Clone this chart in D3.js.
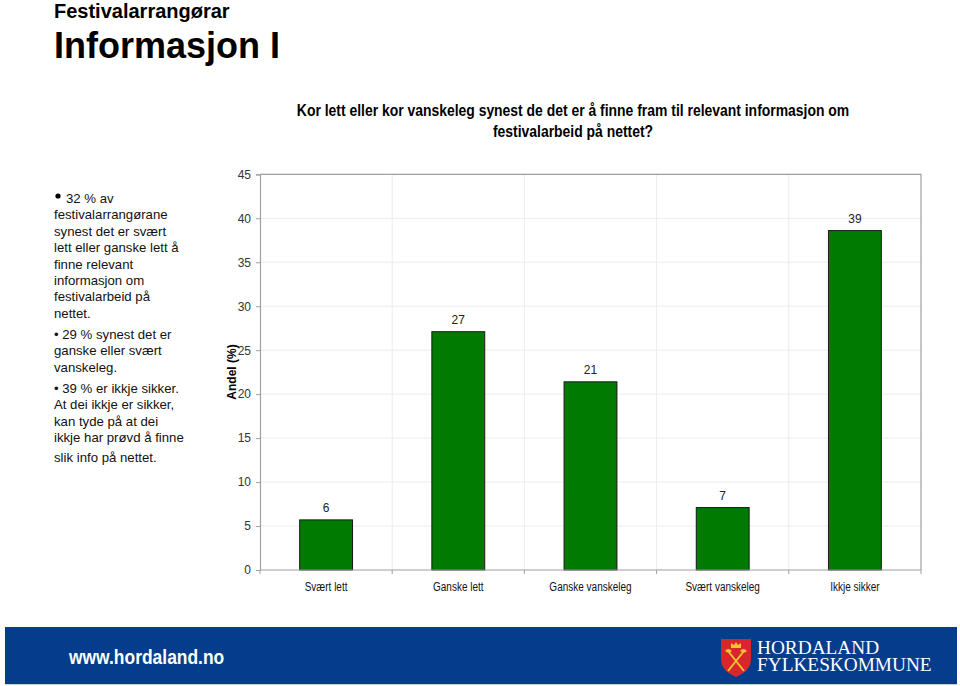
<!DOCTYPE html>
<html><head><meta charset="utf-8">
<script src="https://cdn.jsdelivr.net/npm/d3@7"></script>
<style>
html,body{margin:0;padding:0;background:#fff;}
svg{display:block;}
</style></head>
<body>
<script>
const categories = ["Svært lett","Ganske lett","Ganske vanskeleg","Svært vanskeleg","Ikkje sikker"];
const values = [5.7, 27.1, 21.4, 7.1, 38.6];
const yTicks = [0,5,10,15,20,25,30,35,40,45];
const chartTitle = ["Kor lett eller kor vanskeleg synest de det er å finne fram til relevant informasjon om","festivalarbeid på nettet?"];
const bulletText = [
  ["32 % av","festivalarrangørane","synest det er svært","lett eller ganske lett å","finne relevant","informasjon om","festivalarbeid på","nettet."],
  ["• 29 % synest det er","ganske eller svært","vanskeleg."],
  ["• 39 % er ikkje sikker.","At dei ikkje er sikker,","kan tyde på at dei","ikkje har prøvd å finne","slik info på nettet."]
];

(function(){
const W=960,H=686;
const SANS="Arial,'Liberation Sans',sans-serif";
const SERIF="'Liberation Serif','Times New Roman',serif";
const svg=d3.select("body").append("svg").attr("width",W).attr("height",H).style("font-family",SANS);

function condense(sel,f){
  sel.each(function(){
    const w=this.getComputedTextLength();
    d3.select(this).attr("textLength",w*f).attr("lengthAdjust","spacingAndGlyphs");
  });
  return sel;
}

// headings
svg.append("text").attr("x",54).attr("y",18).attr("font-size",20).attr("font-weight","bold").text("Festivalarrangørar");
svg.append("text").attr("x",54).attr("y",58).attr("font-size",36).attr("font-weight","bold").text("Informasjon I");

// chart title
const ct=svg.selectAll(".ct").data(chartTitle).enter().append("text")
  .attr("x",573).attr("y",(d,i)=>116+i*21).attr("text-anchor","middle")
  .attr("font-size",16).attr("font-weight","bold").text(d=>d);
condense(ct,0.87);

// left text
const lineStarts=[203,339,393];
bulletText.forEach((blk,bi)=>{
  blk.forEach((ln,li)=>{
    const extra = (bi===2 && li===4)?3:0;
    svg.append("text").attr("x",(bi===0&&li===0)?66:54).attr("y",lineStarts[bi]+li*16.4+extra)
      .attr("font-size",13.2).attr("fill","#111").text(ln);
  });
});
svg.append("circle").attr("cx",58).attr("cy",196).attr("r",2.6).attr("fill","#000");

// chart
const pL=260,pR=921,pT=174.3,pB=570;
const x=d3.scaleBand().domain(categories).range([pL,pR]).paddingInner(0).paddingOuter(0);
const y=d3.scaleLinear().domain([0,45]).range([pB,pT]);

// gridlines
svg.append("g").selectAll("line").data(yTicks.slice(1)).enter().append("line")
  .attr("x1",pL).attr("x2",pR).attr("y1",d=>y(d)).attr("y2",d=>y(d))
  .attr("stroke","#ececec").attr("stroke-width",1);
svg.append("g").selectAll("line").data(categories.slice(1)).enter().append("line")
  .attr("x1",d=>x(d)).attr("x2",d=>x(d)).attr("y1",pT).attr("y2",pB)
  .attr("stroke","#ececec").attr("stroke-width",1);

// frame top/right
svg.append("path").attr("d",`M${pL},${pT}H${pR}V${pB}`).attr("fill","none").attr("stroke","#a0a0a0").attr("stroke-width",1.2);

// bars
const bw=x.bandwidth()*0.4;
svg.append("g").selectAll("rect").data(values).enter().append("rect")
  .attr("x",(d,i)=>x(categories[i])+x.bandwidth()/2-bw/2)
  .attr("width",bw)
  .attr("y",d=>y(d)).attr("height",d=>pB-y(d))
  .attr("fill","#007a00").attr("stroke","#1a1a1a").attr("stroke-width",1);

// value labels
svg.append("g").selectAll("text").data(values).enter().append("text")
  .attr("x",(d,i)=>x(categories[i])+x.bandwidth()/2)
  .attr("y",d=>y(d)-8).attr("text-anchor","middle").attr("font-size",12).attr("fill","#222")
  .text(d=>d3.format(".0f")(d));

// y axis
const yAxis=d3.axisLeft(y).tickValues(yTicks).tickSize(4).tickPadding(5);
const gy=svg.append("g").attr("transform",`translate(${pL},0)`).call(yAxis);
gy.attr("font-family",null);
gy.select(".domain").attr("stroke","#a0a0a0").attr("stroke-width",1.2);
gy.selectAll(".tick line").attr("stroke","#a0a0a0");
gy.selectAll(".tick text").attr("font-size",12).attr("fill","#333");

// x axis
const xb=d3.scaleLinear().domain([0,5]).range([pL,pR]);
svg.append("line").attr("x1",pL).attr("x2",pR).attr("y1",pB).attr("y2",pB).attr("stroke","#a0a0a0").attr("stroke-width",1.2);
svg.append("g").selectAll("line").data(d3.range(0,6)).enter().append("line")
  .attr("x1",d=>xb(d)).attr("x2",d=>xb(d)).attr("y1",pB).attr("y2",pB+4).attr("stroke","#a0a0a0");
const xl=svg.append("g").selectAll("text").data(categories).enter().append("text")
  .attr("x",d=>x(d)+x.bandwidth()/2).attr("y",591).attr("text-anchor","middle")
  .attr("font-size",12.5).attr("fill","#111").text(d=>d);
condense(xl,0.8);

// y label
svg.append("text").attr("transform","translate(236,372) rotate(-90)").attr("text-anchor","middle")
  .attr("font-size",12).attr("font-weight","bold").text("Andel (%)");

// footer
svg.append("rect").attr("x",5).attr("y",627).attr("width",952).attr("height",57).attr("fill","#053c8c");
svg.append("line").attr("x1",5).attr("x2",957).attr("y1",684.5).attr("y2",684.5).attr("stroke","#c8d0dc");
const ft=svg.append("text").attr("x",69).attr("y",664).attr("font-size",21).attr("font-weight","bold").attr("fill","#fff").text("www.hordaland.no");
condense(ft,0.83);

// logo shield
const lg=svg.append("g").attr("transform","translate(721,639)");
lg.append("path").attr("d","M0,0 H30 V20 C30,30 22,35 15,38 C8,35 0,30 0,20 Z").attr("fill","#d8262c");
lg.append("path").attr("d","M7,12 L23,32 M23,12 L7,32").attr("stroke","#f2c230").attr("stroke-width",2).attr("fill","none");
lg.append("path").attr("d","M4,12 q3,-4 7,0 q-3,3 -7,0 Z M19,12 q3,-4 7,0 q-3,3 -7,0 Z").attr("fill","#f2c230");
lg.append("path").attr("d","M10,9 L10,4 L13,6 L15,3 L17,6 L20,4 L20,9 Z").attr("fill","#f2c230");
svg.append("text").attr("x",757).attr("y",654).style("font-family",SERIF).attr("font-size",19.3).attr("fill","#fff").text("HORDALAND");
svg.append("text").attr("x",757).attr("y",670.5).style("font-family",SERIF).attr("font-size",19.3).attr("fill","#fff").text("FYLKESKOMMUNE");
})();
</script>
</body></html>
